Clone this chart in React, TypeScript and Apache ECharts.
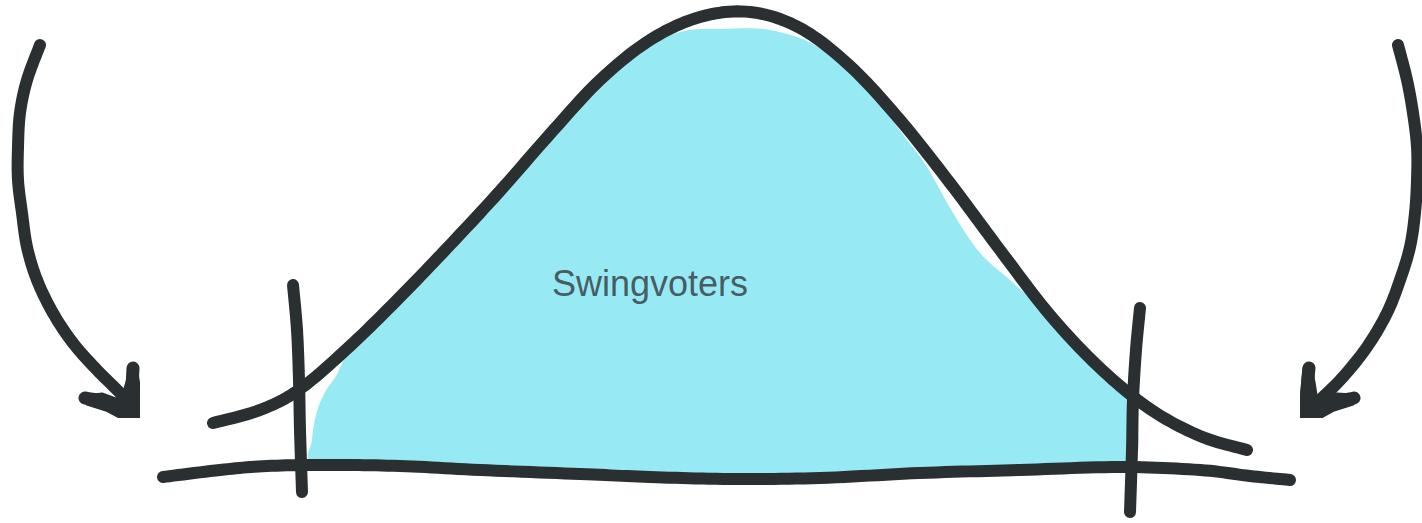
import React, { useEffect, useRef } from "react";
import * as echarts from "echarts";

// Canvas-space scale (pixel units of the illustration)
const X_MAX = 1422;
const Y_MAX = 523;

// Bell curve (x, y)
const bellCurve: number[][] = [
  [213, 423], [260, 410], [300, 389], [350, 346], [400, 297], [450, 245],
  [500, 191], [550, 134], [600, 80], [650, 40], [700, 17], [750, 12],
  [800, 28], [850, 66], [900, 120], [950, 183], [1000, 250], [1050, 315],
  [1100, 368], [1150, 409], [1200, 436], [1247, 450],
];

// Blue "swing voters" region outline
const swingArea: number[][] = [
  [313, 463], [312, 440], [316, 415], [324, 394], [336, 376], [350, 352],
  [400, 300], [450, 248], [500, 194], [550, 137], [600, 84], [640, 52],
  [680, 32], [720, 29], [770, 30], [820, 48], [870, 93], [907, 140],
  [927, 167], [953, 213], [980, 253], [1010, 280], [1037, 305], [1070, 340],
  [1100, 370], [1130, 400], [1129, 466], [1020, 470], [920, 473], [820, 478],
  [730, 479], [580, 473], [480, 470], [380, 465],
];

// Horizontal baseline
const baseline: number[][] = [
  [163, 477], [220, 470], [267, 466], [330, 465], [400, 466], [480, 470],
  [580, 474], [650, 477], [730, 479], [820, 478], [920, 473], [1020, 470],
  [1120, 467], [1200, 470], [1250, 476], [1290, 480],
];

// Vertical cut-off lines
const leftCut: number[][] = [[293, 285], [297, 330], [299, 380], [300, 430], [302, 492]];
const rightCut: number[][] = [[1140, 308], [1136, 350], [1133, 400], [1132, 450], [1130, 512]];

// Arrows: shaft, wings, head blob and the crop box of each arrow
const leftArrow: number[][] = [
  [40, 45], [27, 80], [20, 113], [18, 147], [18, 180], [22, 213],
  [27, 247], [37, 280], [53, 313], [73, 343], [97, 370], [120, 393], [131, 407],
];
const leftWingA: number[][] = [[85, 398], [106, 402], [130, 412]];
const leftWingB: number[][] = [[133, 368], [132, 390], [132, 412]];
const leftHead: number[][] = [
  [86, 396], [102, 394], [121, 401], [127, 382], [130, 368], [136, 367],
  [139, 385], [141, 421], [127, 421], [106, 410], [87, 404],
];
const leftCrop: number[][] = [[0, 0], [140, 418]];

const rightArrow: number[][] = [
  [1398, 45], [1407, 80], [1413, 113], [1417, 147], [1417, 180], [1415, 213],
  [1410, 247], [1400, 280], [1387, 313], [1367, 347], [1343, 377], [1323, 397], [1311, 409],
];
const rightWingA: number[][] = [[1309, 368], [1307, 390], [1306, 412]];
const rightWingB: number[][] = [[1354, 398], [1332, 403], [1308, 412]];
const rightHead: number[][] = [
  [1353, 395], [1337, 394], [1317, 401], [1314, 382], [1311, 367], [1304, 368],
  [1302, 390], [1299, 421], [1314, 421], [1334, 410], [1353, 404],
];
const rightCrop: number[][] = [[1300, 0], [1422, 418]];

// Label
const labelText = "Swingvoters";
const labelPoint: number[][] = [[650, 283]];

const INK = "#2a2f31";
const FILL = "#97e9f4";

// Catmull-Rom resampling of on-screen points (rendering only)
function catmull(pts: number[][], closed = false, steps = 12): number[][] {
  const n = pts.length;
  if (n < 3) return pts;
  const out: number[][] = [];
  const get = (i: number) => {
    if (closed) return pts[((i % n) + n) % n];
    return pts[Math.max(0, Math.min(n - 1, i))];
  };
  const segs = closed ? n : n - 1;
  for (let i = 0; i < segs; i++) {
    const p0 = get(i - 1), p1 = get(i), p2 = get(i + 1), p3 = get(i + 2);
    for (let s = 0; s < steps; s++) {
      const t = s / steps, t2 = t * t, t3 = t2 * t;
      const f = (a: number, b: number, c: number, d: number) =>
        0.5 * (2 * b + (-a + c) * t + (2 * a - 5 * b + 4 * c - d) * t2 + (-a + 3 * b - 3 * c + d) * t3);
      out.push([f(p0[0], p1[0], p2[0], p3[0]), f(p0[1], p1[1], p2[1], p3[1])]);
    }
  }
  if (!closed) out.push(pts[n - 1]);
  return out;
}

function strokeEl(pts: number[][], width: number) {
  return {
    type: "polyline",
    shape: { points: catmull(pts) },
    style: { stroke: INK, lineWidth: width, fill: "none", lineCap: "round", lineJoin: "round" },
  };
}

function strokeSeries(data: number[][], width = 12) {
  return {
    type: "custom",
    data,
    silent: true,
    z: 3,
    renderItem: (params: any, api: any) => {
      if (params.dataIndex !== 0) return null;
      return strokeEl(data.map((p) => api.coord(p)), width);
    },
  };
}

function arrowSeries(shaft: number[][], wings: number[][][], head: number[][], crop: number[][]) {
  return {
    type: "custom",
    data: shaft,
    silent: true,
    z: 3,
    renderItem: (params: any, api: any) => {
      if (params.dataIndex !== 0) return null;
      const c = (p: number[]) => api.coord(p);
      const a = c(crop[0]);
      const b = c(crop[1]);
      return {
        type: "group",
        clipPath: {
          type: "rect",
          shape: { x: a[0], y: a[1], width: b[0] - a[0], height: b[1] - a[1] },
        },
        children: [
          strokeEl(shaft.map(c), 12),
          ...wings.map((w) => strokeEl(w.map(c), 13)),
          {
            type: "polygon",
            shape: { points: head.map(c) },
            style: { fill: INK, stroke: INK, lineWidth: 3, lineJoin: "round" },
          },
        ],
      };
    },
  };
}

export default function App() {
  const ref = useRef<HTMLDivElement>(null);

  useEffect(() => {
    if (!ref.current) return;
    const chart = echarts.init(ref.current, undefined, { renderer: "svg" });
    chart.setOption({
      animation: false,
      backgroundColor: "#ffffff",
      grid: { left: 0, right: 0, top: 0, bottom: 0 },
      xAxis: { type: "value", min: 0, max: X_MAX, show: false },
      yAxis: { type: "value", min: 0, max: Y_MAX, inverse: true, show: false },
      series: [
        {
          type: "custom",
          data: swingArea,
          silent: true,
          z: 1,
          renderItem: (params: any, api: any) => {
            if (params.dataIndex !== 0) return null;
            const pts = catmull(swingArea.map((p) => api.coord(p)), true);
            return {
              type: "polygon",
              shape: { points: pts },
              style: { fill: FILL, stroke: "none" },
            };
          },
        },
        {
          type: "scatter",
          data: labelPoint,
          symbolSize: 0,
          itemStyle: { color: "rgba(0,0,0,0)" },
          silent: true,
          z: 4,
          label: {
            show: true,
            position: "inside",
            formatter: labelText,
            fontSize: 36,
            color: "#30363a",
            fontFamily: "'Liberation Sans', Arial, sans-serif",
          },
        },
        strokeSeries(baseline),
        strokeSeries(bellCurve),
        strokeSeries(leftCut),
        strokeSeries(rightCut),
        arrowSeries(leftArrow, [leftWingA, leftWingB], leftHead, leftCrop),
        arrowSeries(rightArrow, [rightWingA, rightWingB], rightHead, rightCrop),
      ],
    });
    return () => chart.dispose();
  }, []);

  return (
    <div
      ref={ref}
      style={{ position: "absolute", left: 0, top: 0, width: X_MAX, height: Y_MAX }}
    />
  );
}
